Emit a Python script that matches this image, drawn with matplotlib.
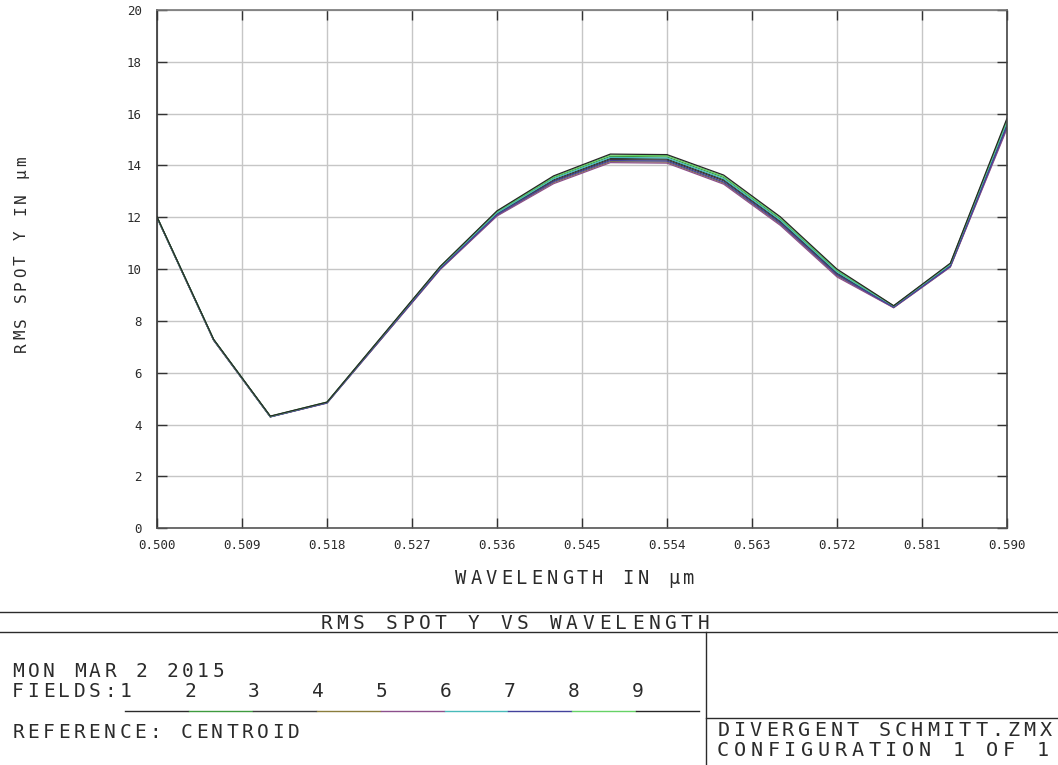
import matplotlib
matplotlib.use("Agg")
import matplotlib.pyplot as plt
from matplotlib.lines import Line2D

# ---- data -------------------------------------------------------------
wavelength = [0.500, 0.506, 0.512, 0.518, 0.524, 0.530, 0.536, 0.542,
              0.548, 0.554, 0.560, 0.566, 0.572, 0.578, 0.584, 0.590]

field_1 = [12.00, 7.27, 4.31, 4.85, 7.45, 10.05, 12.15, 13.45, 14.27, 14.25, 13.45, 11.85, 9.85, 8.55, 10.15, 15.62]
field_2 = [12.01, 7.28, 4.32, 4.86, 7.47, 10.08, 12.20, 13.53, 14.35, 14.33, 13.54, 11.93, 9.93, 8.57, 10.19, 15.72]
field_3 = [12.00, 7.27, 4.31, 4.85, 7.44, 10.04, 12.13, 13.41, 14.23, 14.21, 13.41, 11.81, 9.81, 8.54, 10.13, 15.57]
field_4 = [11.99, 7.26, 4.30, 4.84, 7.42, 10.00, 12.07, 13.34, 14.15, 14.13, 13.32, 11.73, 9.74, 8.52, 10.09, 15.47]
field_5 = [11.99, 7.25, 4.30, 4.83, 7.41, 9.99, 12.05, 13.30, 14.11, 14.09, 13.28, 11.69, 9.70, 8.51, 10.08, 15.42]
field_6 = [12.00, 7.28, 4.31, 4.85, 7.46, 10.06, 12.17, 13.49, 14.31, 14.29, 13.49, 11.89, 9.89, 8.56, 10.17, 15.67]
field_7 = [11.99, 7.26, 4.30, 4.84, 7.43, 10.02, 12.10, 13.38, 14.19, 14.17, 13.36, 11.77, 9.78, 8.53, 10.11, 15.52]
field_8 = [12.01, 7.28, 4.32, 4.87, 7.48, 10.10, 12.23, 13.56, 14.40, 14.38, 13.58, 11.98, 9.96, 8.58, 10.21, 15.77]
field_9 = [12.02, 7.29, 4.33, 4.87, 7.49, 10.11, 12.25, 13.60, 14.44, 14.42, 13.63, 12.02, 10.00, 8.59, 10.23, 15.82]

fields = [field_1, field_2, field_3, field_4, field_5, field_6, field_7, field_8, field_9]
field_labels = ["1", "2", "3", "4", "5", "6", "7", "8", "9"]
field_colors = ["#2a2a2a", "#3f9a3f", "#3c3c3c", "#8a7d3c", "#8c4f8c",
                "#48baba", "#42429c", "#66d266", "#262626"]

x_ticks = [0.500, 0.509, 0.518, 0.527, 0.536, 0.545, 0.554, 0.563, 0.572, 0.581, 0.590]
y_ticks = [0, 2, 4, 6, 8, 10, 12, 14, 16, 18, 20]

title = "RMS SPOT Y VS WAVELENGTH"
x_title = "WAVELENGTH IN µm"
y_title = "RMS SPOT Y IN µm"
date_text = "MON MAR 2 2015"
reference_text = "REFERENCE: CENTROID"
file_text = "DIVERGENT SCHMITT.ZMX"
config_text = "CONFIGURATION 1 OF 1"

# ---- figure -----------------------------------------------------------
W, H = 1058, 765
MONO = "DejaVu Sans Mono"
INK = "#2b2b2b"

fig = plt.figure(figsize=(W / 100, H / 100), dpi=100)
fig.patch.set_facecolor("white")


def fx(x):
    return x / W


def fy(y):
    return 1 - y / H


def grid_text(s, x0, yc, pitch, size, rotation=0):
    """Draw a string on a fixed character grid (pixel coordinates, top-left origin)."""
    cap = 0.73 * size * 100 / 72
    for i, ch in enumerate(s):
        if ch == " ":
            continue
        if rotation == 0:
            fig.text(fx(x0 + i * pitch), fy(yc + cap / 2), ch, ha="center",
                     va="baseline", fontsize=size, family=MONO, color=INK)
        else:
            fig.text(fx(x0 + cap / 2), fy(yc - i * pitch), ch, ha="center",
                     va="baseline", fontsize=size, family=MONO, color=INK,
                     rotation=90, rotation_mode="anchor")


def hline(y, x0, x1, color=INK, lw=1.0):
    fig.add_artist(Line2D([fx(x0), fx(x1)], [fy(y), fy(y)],
                          transform=fig.transFigure, color=color, lw=lw))


def vline(x, y0, y1, color=INK, lw=1.0):
    fig.add_artist(Line2D([fx(x), fx(x)], [fy(y0), fy(y1)],
                          transform=fig.transFigure, color=color, lw=lw))


# plot area
left, right, top, bottom = 157, 1007, 10, 528.3
ax = fig.add_axes([fx(left), fy(bottom), (right - left) / W, (bottom - top) / H])

for vals, col in zip(fields, field_colors):
    ax.plot(wavelength, vals, color=col, lw=0.9, solid_joinstyle="miter")

ax.set_xlim(x_ticks[0], x_ticks[-1])
ax.set_ylim(y_ticks[0], y_ticks[-1])
ax.set_xticks(x_ticks)
ax.set_xticklabels([f"{v:.3f}" for v in x_ticks])
ax.set_yticks(y_ticks)
ax.set_yticklabels([str(v) for v in y_ticks])
ax.grid(True, color="#c6c6c6", lw=1.0)
ax.set_axisbelow(True)
ax.tick_params(direction="in", length=7, width=1.0, color="#333333",
               top=True, right=True, labelsize=9, labelcolor=INK)
ax.tick_params(axis="x", pad=8)
ax.tick_params(axis="y", pad=11)
for lab in ax.get_xticklabels() + ax.get_yticklabels():
    lab.set_family(MONO)
ax.spines["left"].set_color("#333333")
ax.spines["bottom"].set_color("#555555")
ax.spines["top"].set_color("#777777")
ax.spines["right"].set_color("#444444")
for sp in ax.spines.values():
    sp.set_linewidth(1.2)

# axis titles
grid_text(x_title, 461, 577, 15.2, 13.5)
grid_text(y_title, 20, 347, 12.4, 11.5, rotation=90)

# ---- info panel -------------------------------------------------------
hline(612, 0, W)
hline(632, 0, W)
vline(706, 632, H)
hline(717.5, 706, W)

grid_text(title, 326, 622, 16.4, 14)
grid_text(date_text, 18, 670, 15.4, 14)
grid_text("FIELDS:", 18, 690, 15.4, 14)
num_x0, num_pitch = 126, 63.9
for i, (lab, col) in enumerate(zip(field_labels, field_colors)):
    cx = num_x0 + i * num_pitch
    grid_text(lab, cx, 690, 15.4, 14)
    hline(711, cx - 1, cx + num_pitch - 2, color=col, lw=1.0)
grid_text(reference_text, 18, 731, 15.3, 14)
grid_text(file_text, 723.5, 729, 16.1, 14.5)
grid_text(config_text, 723, 749, 16.8, 14.5)

fig.savefig("out.png", dpi=100, facecolor="white")
